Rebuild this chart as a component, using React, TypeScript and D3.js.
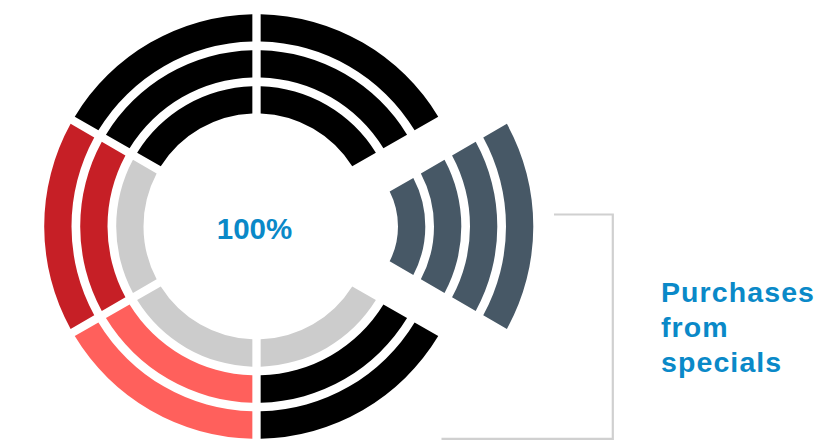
import React from "react";
import * as d3 from "d3";

// ---- data ----
const segments = ["Segment A", "Purchases from specials", "Segment C", "Segment D", "Segment E", "Segment F"];
const segmentShares = [1, 1, 1, 1, 1, 1];
const highlighted = "Purchases from specials";
// ring groups (inner -> outer), one group per segment; "" = no arc
const ring0 = ["", "focus", "", "", "", ""];
const ring1 = ["dark", "focus", "neutral", "neutral", "neutral", "dark"];
const ring2 = ["dark", "focus", "dark", "light", "strong", "dark"];
const ring3 = ["dark", "focus", "dark", "light", "strong", "dark"];
const rings = [ring0, ring1, ring2, ring3];
const centerLabel = "100%";
const calloutLines = ["Purchases", "from", "specials"];

// ---- styles ----
const groupColor: Record<string, string> = {
  dark: "#000000",
  focus: "#475866",
  neutral: "#cccccc",
  light: "#ff605c",
  strong: "#c61f26",
};
const W = 827, H = 440;
const cx = 256.5, cy = 226.4;
const ringInner = d3.scaleLinear().domain([0, 1]).range([77, 113]);
const ringWidth = 27.3;
const explode = 64.5;

export default function App() {
  const pie = d3
    .pie<number>()
    .sort(null)
    .startAngle(0)
    .endAngle(2 * Math.PI)
    .value((d) => d);
  const arcsData = pie(segmentShares);

  const arcGen = d3.arc<any>().padAngle(0.083).padRadius(100);

  const paths: JSX.Element[] = [];
  rings.forEach((ring, ri) => {
    const r0 = ringInner(ri);
    const r1 = r0 + ringWidth;
    arcsData.forEach((a, si) => {
      const g = ring[si];
      if (!g) return;
      const mid = (a.startAngle + a.endAngle) / 2;
      const off = segments[si] === highlighted ? explode : 0;
      const tx = off * Math.sin(mid);
      const ty = -off * Math.cos(mid);
      const d = arcGen({
        innerRadius: r0,
        outerRadius: r1,
        startAngle: a.startAngle,
        endAngle: a.endAngle,
      }) as string;
      paths.push(
        <path
          key={`${ri}-${si}`}
          d={d}
          fill={groupColor[g]}
          transform={`translate(${tx},${ty})`}
        />
      );
    });
  });

  return (
    <svg
      width={W}
      height={H}
      style={{ position: "absolute", left: 0, top: 0, background: "#fff" }}
      fontFamily="'Liberation Sans', Arial, sans-serif"
    >
      <g transform={`translate(${cx},${cy})`}>{paths}</g>
      <text
        x={254.5}
        y={239}
        textAnchor="middle"
        fontSize={29.5}
        fontWeight="bold"
        fill="#0a89c8"
      >
        {centerLabel}
      </text>
      <polyline
        points={`554,214.5 612.8,214.5 612.8,438.8 441.5,438.8`}
        fill="none"
        stroke="#d0d0d0"
        strokeWidth={2.2}
      />
      {calloutLines.map((t, i) => (
        <text
          key={t}
          x={661}
          y={301.7 + i * 35}
          fontSize={28.5}
          fontWeight="bold"
          letterSpacing={1.1}
          fill="#0a89c8"
        >
          {t}
        </text>
      ))}
    </svg>
  );
}
